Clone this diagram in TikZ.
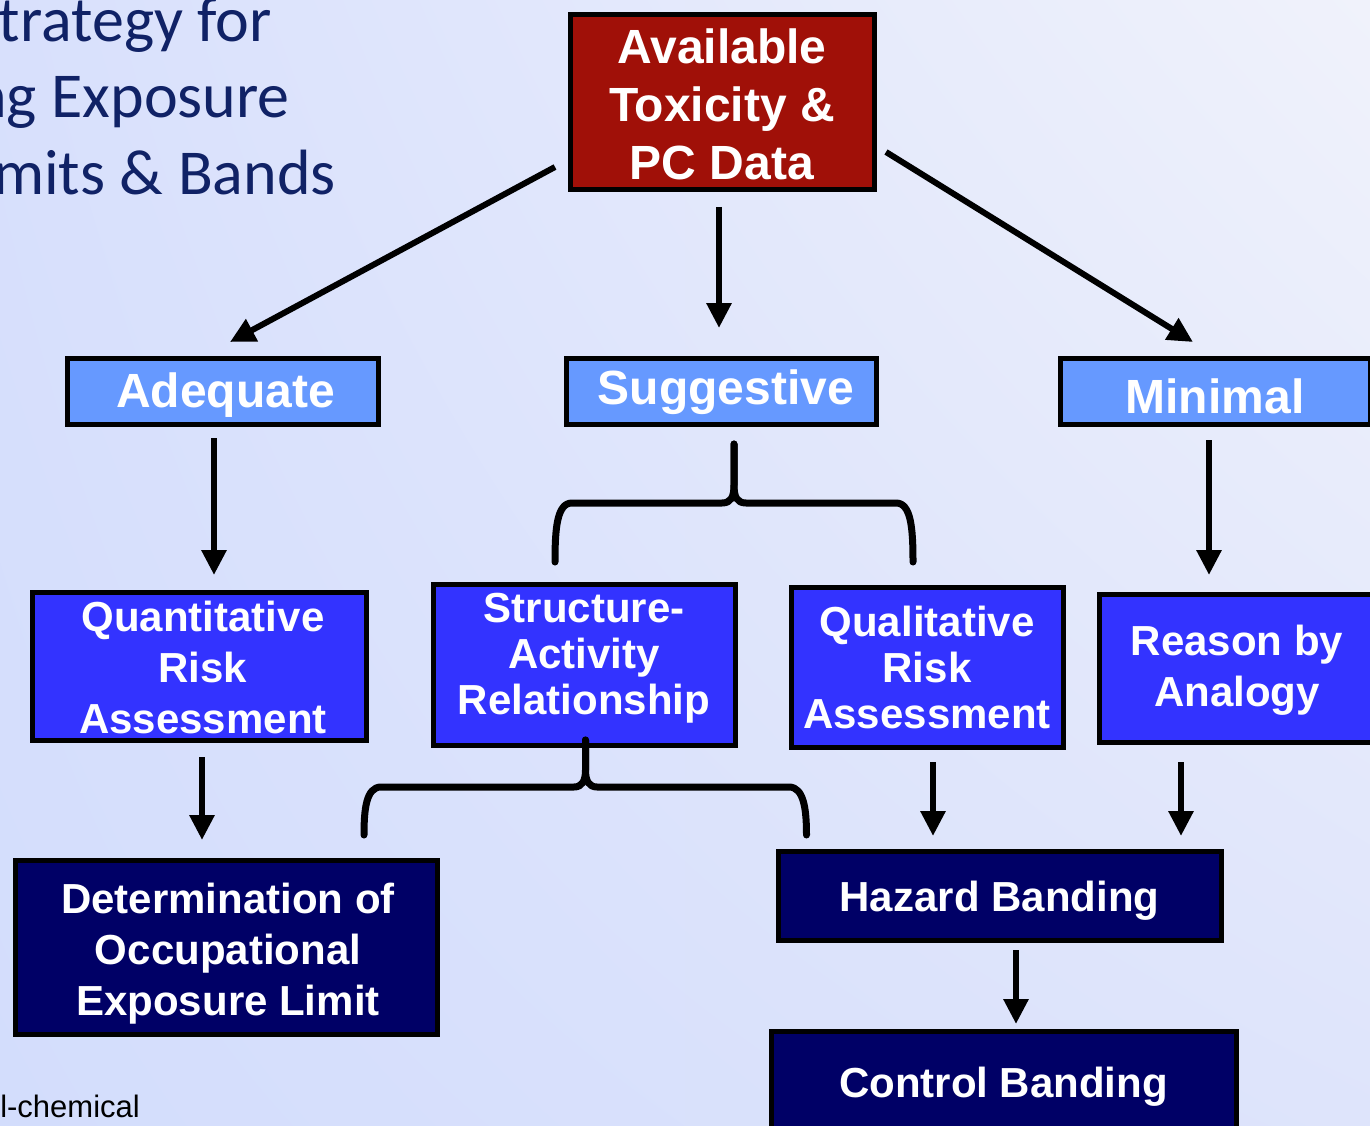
\documentclass[tikz,border=0pt]{standalone}
\usepackage{fontspec}
\setmainfont{Liberation Sans}
\newfontfamily\titlefont{Carlito}
\usetikzlibrary{arrows.meta,shadings}
\definecolor{bgUL}{RGB}{216,224,252}
\definecolor{bgUR}{RGB}{240,242,251}
\definecolor{bgLL}{RGB}{211,221,252}
\definecolor{bgLR}{RGB}{222,228,251}
\definecolor{redbox}{RGB}{160,16,8}
\definecolor{lightbox}{RGB}{102,153,255}
\definecolor{bluebox}{RGB}{51,51,255}
\definecolor{navybox}{RGB}{0,0,102}
\definecolor{titlecol}{RGB}{16,34,102}
\tikzset{
  box/.style={draw=black, line width=5pt, inner sep=0pt},
  txt/.style={inner sep=0pt, text=white, align=center, font=\bfseries\fontsize{42}{51}\selectfont},
  bigtxt/.style={txt, font=\bfseries\fontsize{48}{58}\selectfont},
  tighttxt/.style={txt, font=\bfseries\fontsize{42}{46}\selectfont},
  topbox/.style={box, fill=redbox},
  levelbox/.style={box, fill=lightbox},
  methodbox/.style={box, fill=bluebox},
  resultbox/.style={box, fill=navybox},
  arr/.style={line width=6pt, -{Triangle[length=25pt,width=24pt]}},
  bracepath/.style={line width=7pt, line cap=round, line join=round},
  titletext/.style={text=titlecol, inner sep=0pt, anchor=base east, font=\titlefont\fontsize{64}{74}\selectfont}
}
\begin{document}
\begin{tikzpicture}[x=1pt, y=-1pt]
\useasboundingbox (0,0) rectangle (1370,1126);
\clip (0,0) rectangle (1370,1126);
\shade[upper left=bgUL, upper right=bgUR, lower left=bgLL, lower right=bgLR] (0,0) rectangle (1370,1126);

% title fragments
\node[titletext] (t1) at (272,42) {trategy for};
\node[titletext] (t2) at (290,118) {ng Exposure};
\node[titletext] (t3) at (336,194) {mits \& Bands};
\node[inner sep=0pt, anchor=base east, font=\fontsize{31}{36}\selectfont] (foot) at (140,1117) {l-chemical};

% boxes
\node[topbox, minimum width=304, minimum height=175] (avail) at (722,102.5) {};
\node[bigtxt] (availT) at ([yshift=-2pt]avail.center) {Available\\Toxicity \&\\PC Data};
\node[levelbox, minimum width=311, minimum height=66] (adeq) at (222.5,391) {};
\node[bigtxt] (adeqT) at ([xshift=3pt,yshift=-4pt]adeq.center) {Adequate};
\node[levelbox, minimum width=310, minimum height=66] (sugg) at (721,391) {};
\node[bigtxt] (suggT) at ([xshift=5pt,yshift=-1pt]sugg.center) {Suggestive};
\node[levelbox, minimum width=310, minimum height=66] (mini) at (1215,391) {};
\node[bigtxt] (miniT) at ([yshift=-5pt]mini.center) {Minimal};

\node[methodbox, minimum width=334, minimum height=148] (qra) at (199,666) {};
\node[txt] (qraT) at ([xshift=4pt,yshift=-1pt]qra.center) {Quantitative\\Risk\\Assessment};
\node[methodbox, minimum width=302, minimum height=161] (sar) at (584,664.5) {};
\node[tighttxt] (sarT) at ([yshift=6.5pt]sar.center) {Structure-\\Activity\\Relationship};
\node[methodbox, minimum width=272, minimum height=160] (qual) at (927,667) {};
\node[tighttxt] (qualT) at (qual.center) {Qualitative\\Risk\\Assessment};
\node[methodbox, minimum width=276, minimum height=148] (rba) at (1237,668) {};
\node[txt] (rbaT) at ([yshift=-2pt]rba.center) {Reason by\\Analogy};

\node[resultbox, minimum width=422, minimum height=174] (det) at (226,947) {};
\node[txt] (detT) at ([xshift=2pt,yshift=-7pt]det.center) {Determination of\\Occupational\\Exposure Limit};
\node[resultbox, minimum width=443, minimum height=89] (haz) at (999.5,895.5) {};
\node[txt] (hazT) at ([yshift=-5pt]haz.center) {Hazard Banding};
\node[resultbox, minimum width=465, minimum height=102] (ctrl) at (1003.5,1082) {};
\node[txt] (ctrlT) at ([yshift=-5pt]ctrl.center) {Control Banding};

% arrow end coordinates
\coordinate (a1s) at (555,167); \coordinate (a1e) at (230,342);
\coordinate (a2s) at (719,207); \coordinate (a2e) at (719,328);
\coordinate (a3s) at (886,152); \coordinate (a3e) at (1193,342);
\coordinate (a4s) at (214,438); \coordinate (a4e) at (214,575);
\coordinate (a5s) at (202,757); \coordinate (a5e) at (202,840);
\coordinate (a6s) at (1209,440); \coordinate (a6e) at (1209,575);
\coordinate (a7s) at (933,762); \coordinate (a7e) at (933,836);
\coordinate (a8s) at (1181,762); \coordinate (a8e) at (1181,836);
\coordinate (a9s) at (1016,950); \coordinate (a9e) at (1016,1024);

\draw[arr] (a1s) -- (a1e);
\draw[arr] (a2s) -- (a2e);
\draw[arr] (a3s) -- (a3e);
\draw[arr] (a4s) -- (a4e);
\draw[arr] (a5s) -- (a5e);
\draw[arr] (a6s) -- (a6e);
\draw[arr] (a7s) -- (a7e);
\draw[arr] (a8s) -- (a8e);
\draw[arr] (a9s) -- (a9e);

% braces
\coordinate (b1tip) at (734,444);
\coordinate (b1l) at (555,562);
\coordinate (b1r) at (913,562);
\draw[bracepath] (b1tip) -- (734,485) .. controls (734,497) and (731,503) .. (722,503) -- (572,503) .. controls (557,503) and (555,528) .. (b1l);
\draw[bracepath] (b1tip) -- (734,485) .. controls (734,497) and (737,503) .. (746,503) -- (896,503) .. controls (911,503) and (913,528) .. (b1r);

\coordinate (b2tip) at (585.5,740);
\coordinate (b2l) at (364,835);
\coordinate (b2r) at (806.5,835);
\draw[bracepath] (b2tip) -- (585.5,770) .. controls (585.5,781) and (582,787) .. (574,787) -- (381,787) .. controls (366,787) and (364,810) .. (b2l);
\draw[bracepath] (b2tip) -- (585.5,770) .. controls (585.5,781) and (589,787) .. (597,787) -- (789,787) .. controls (804,787) and (806.5,810) .. (b2r);
\end{tikzpicture}
\end{document}
